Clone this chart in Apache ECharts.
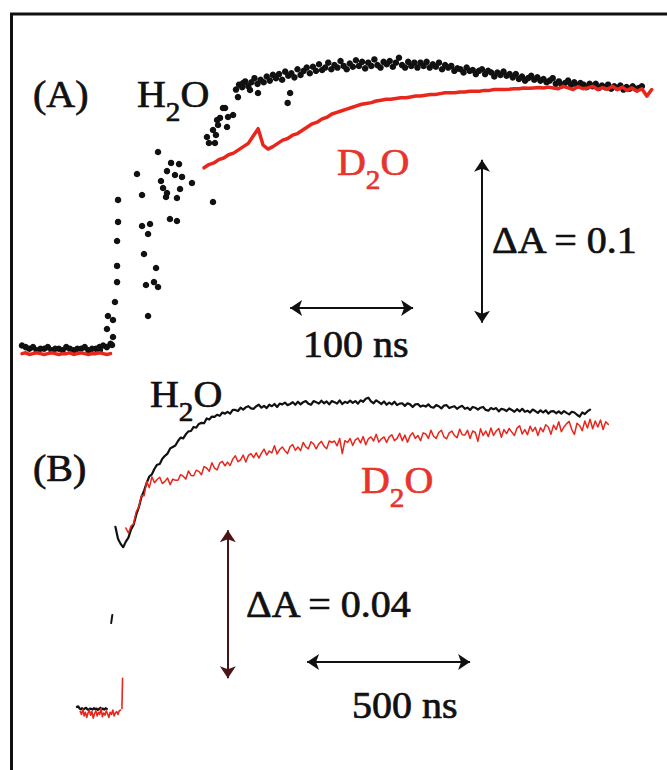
<!DOCTYPE html>
<html>
<head>
<meta charset="utf-8">
<script src="https://cdn.jsdelivr.net/npm/echarts@6/dist/echarts.min.js"></script>
<style>
  html, body { margin: 0; padding: 0; background: #ffffff; }
  #chart { width: 667px; height: 770px; }
</style>
</head>
<body>
<div id="chart"></div>
<script>
// ---------------------------------------------------------------------------
// Transient absorbance traces, H2O (black) vs D2O (red).
// Times in ns (t = 0 at the laser flash), amplitudes in absorbance units.
// Uniformly sampled traces are stored as start time, sampling step, values.
// ---------------------------------------------------------------------------

// (A) short time window
const a_d2o_pre_t0 = -74, a_d2o_pre_dt = 3;
const a_d2o_pre = [-0.001, -0.0005, -0.0015, -0.001, -0.0005, -0.001, -0.0015, -0.001, -0.0005, -0.001,
  -0.0015, -0.001, -0.001, -0.0005, -0.0015, -0.001, -0.0005, -0.001, -0.0015, -0.001,
  -0.001, -0.0005, -0.001, -0.0015, -0.001];

const a_d2o_t0 = 74, a_d2o_dt = 4;
const a_d2o = [0.113, 0.115, 0.116, 0.118, 0.119, 0.121, 0.122, 0.124, 0.126, 0.128,
  0.1325, 0.137, 0.127, 0.1245, 0.126, 0.128, 0.130, 0.131, 0.133, 0.134,
  0.136, 0.138, 0.140, 0.141, 0.143, 0.144, 0.146, 0.147, 0.148, 0.149,
  0.150, 0.151, 0.152, 0.1525, 0.153, 0.154, 0.1545, 0.155, 0.155, 0.1555,
  0.156, 0.156, 0.1565, 0.157, 0.157, 0.1575, 0.158, 0.158, 0.1585, 0.159,
  0.159, 0.159, 0.1595, 0.1595, 0.160, 0.160, 0.160, 0.1605, 0.1605, 0.161,
  0.161, 0.161, 0.1612, 0.1615, 0.1615, 0.162, 0.1618, 0.162, 0.1622, 0.162,
  0.1625, 0.162, 0.1615, 0.163, 0.162, 0.161, 0.1628, 0.1615, 0.162, 0.163,
  0.161, 0.1622, 0.1612, 0.163, 0.161, 0.1625, 0.1605, 0.162, 0.160, 0.1615,
  0.157, 0.161];

const a_h2o_pre_t0 = -74, a_h2o_pre_dt = 3;
const a_h2o_pre = [0.004, 0.003, 0.002, 0.003, 0.001, 0.002, 0.002, 0.003, 0.001, 0.002,
  0.002, 0.001, 0.003, 0.002, 0.001, 0.002, 0.002, 0.003, 0.001, 0.002,
  0.002, 0.003, 0.004, 0.003, 0.005];

// scattered points of the fast rise, [t, dA]
const a_h2o_rise = [
  [-10.6, 0.0012], [-0.8, 0.0043], [0, 0.0092], [-4.9, 0.0141], [0, 0.0196], [-4.1, 0.0221],
  [1.6, 0.0307], [3.3, 0.0429], [3.3, 0.0528], [3.3, 0.0681], [4.1, 0.0798], [4.1, 0.0933],
  [19.5, 0.1092], [23.6, 0.0963], [23.6, 0.0773], [30.1, 0.0785], [28.5, 0.0724], [25.2, 0.0601],
  [35.0, 0.0515], [26.8, 0.0411], [33.3, 0.0429], [36.6, 0.0399], [28.5, 0.0221],
  [36.6, 0.1227], [47.2, 0.1160], [53.7, 0.1153], [43.9, 0.1110], [50.4, 0.1086], [56.1, 0.1074],
  [39.0, 0.1049], [40.7, 0.1006], [43.9, 0.0975], [54.5, 0.1000], [52.0, 0.0945], [43.1, 0.0951],
  [64.2, 0.1037], [46.3, 0.0816], [52.0, 0.0804], [81.3, 0.0920],
  [76.4, 0.1319], [78.0, 0.1282], [82.9, 0.1282], [83.7, 0.1331], [85.4, 0.1393], [87.0, 0.1436],
  [91.1, 0.1497], [93.5, 0.1442], [97.6, 0.1454], [92.7, 0.1380], [81.3, 0.1362], [84.6, 0.1423],
  [89.4, 0.1497], [101.6, 0.1564], [105.7, 0.1650], [111.4, 0.1607], [117.9, 0.1589],
  [142, 0.1528], [144, 0.1589]
];

const a_h2o_t0 = 100, a_h2o_dt = 2.5;
const a_h2o = [0.161, 0.164, 0.1625, 0.166, 0.163, 0.1655, 0.168, 0.1645, 0.167, 0.1655,
  0.169, 0.1665, 0.170, 0.168, 0.1705, 0.167, 0.172, 0.1695, 0.171, 0.1685,
  0.1735, 0.170, 0.1725, 0.1745, 0.171, 0.175, 0.1725, 0.1765, 0.173, 0.1745,
  0.1775, 0.1735, 0.176, 0.1745, 0.1785, 0.1755, 0.1735, 0.177, 0.175, 0.179,
  0.1755, 0.178, 0.174, 0.1775, 0.1755, 0.1795, 0.176, 0.1745, 0.178, 0.1765,
  0.1785, 0.175, 0.1775, 0.1805, 0.176, 0.1745, 0.178, 0.1755, 0.1775, 0.1745,
  0.1775, 0.1755, 0.178, 0.1745, 0.1765, 0.175, 0.1775, 0.1735, 0.176, 0.1745,
  0.1755, 0.1725, 0.174, 0.1735, 0.1715, 0.1745, 0.1725, 0.173, 0.1705, 0.1725,
  0.1735, 0.1705, 0.1725, 0.1715, 0.169, 0.1715, 0.170, 0.172, 0.1695, 0.1705,
  0.1685, 0.1705, 0.1675, 0.169, 0.1665, 0.168, 0.1695, 0.167, 0.1685, 0.1665,
  0.1675, 0.1655, 0.1665, 0.168, 0.1645, 0.166, 0.1635, 0.165, 0.1665, 0.164,
  0.1655, 0.1635, 0.165, 0.164, 0.1625, 0.1645, 0.163, 0.1645, 0.162, 0.1635,
  0.1625, 0.164, 0.1615, 0.163, 0.162, 0.1635, 0.161, 0.1625, 0.1615, 0.163,
  0.1615, 0.162, 0.163];

// (B) long time window
const b_h2o_pre_t0 = -126, b_h2o_pre_dt = 4;
const b_h2o_pre = [0.0008, 0.0010, 0.0004, 0.0002, 0.0005, 0.0001, 0.0004, 0.0006, 0.0002, 0.0000,
  0.0004, 0.0003, 0.0001, 0.0005, 0.0002, 0.0004, 0.0000, 0.0003, 0.0006, 0.0002,
  0.0004, 0.0001, 0.0005, 0.0003];
const b_h2o_step = [[-21, 0.0235], [-17.4, 0.0257]];

const b_h2o_t0 = -8, b_h2o_dt = 8;
const b_h2o = [0.0495, 0.0463, 0.0449, 0.0440, 0.0455, 0.0466, 0.0488, 0.0501, 0.0528, 0.0548,
  0.0576, 0.0593, 0.0614, 0.0631, 0.0637, 0.0652, 0.0663, 0.0665, 0.0679, 0.0687,
  0.0693, 0.0707, 0.0711, 0.0715, 0.0727, 0.0736, 0.0734, 0.0745, 0.0753, 0.0754,
  0.0765, 0.0763, 0.0773, 0.0776, 0.0775, 0.0788, 0.0785, 0.0793, 0.0792, 0.0798,
  0.0795, 0.0804, 0.0801, 0.0806, 0.0801, 0.0811, 0.0811, 0.0808, 0.0817, 0.0812,
  0.0818, 0.0821, 0.0815, 0.0814, 0.0821, 0.0825, 0.0817, 0.0822, 0.0816, 0.0825,
  0.0821, 0.0827, 0.0819, 0.0828, 0.0826, 0.0831, 0.0824, 0.0827, 0.0832, 0.0825,
  0.0833, 0.0826, 0.0832, 0.0835, 0.0828, 0.0825, 0.0835, 0.0832, 0.0828, 0.0836,
  0.0829, 0.0834, 0.0826, 0.0835, 0.0832, 0.0828, 0.0837, 0.0827, 0.0833, 0.0830,
  0.0836, 0.0830, 0.0835, 0.0828, 0.0837, 0.0833, 0.0841, 0.0844, 0.0834, 0.0829,
  0.0837, 0.0832, 0.0827, 0.0834, 0.0825, 0.0831, 0.0826, 0.0833, 0.0824, 0.0828,
  0.0829, 0.0822, 0.0829, 0.0826, 0.0819, 0.0826, 0.0827, 0.0820, 0.0823, 0.0820,
  0.0826, 0.0819, 0.0817, 0.0824, 0.0821, 0.0815, 0.0823, 0.0824, 0.0816, 0.0819,
  0.0821, 0.0814, 0.0819, 0.0822, 0.0814, 0.0817, 0.0811, 0.0819, 0.0817, 0.0812,
  0.0817, 0.0819, 0.0811, 0.0809, 0.0816, 0.0813, 0.0816, 0.0807, 0.0814, 0.0812,
  0.0808, 0.0815, 0.0811, 0.0806, 0.0813, 0.0807, 0.0814, 0.0806, 0.0809, 0.0804,
  0.0812, 0.0808, 0.0803, 0.0810, 0.0804, 0.0810, 0.0801, 0.0807, 0.0808, 0.0802,
  0.0807, 0.0801, 0.0808, 0.0803, 0.0799, 0.0806, 0.0804, 0.0798, 0.0793, 0.0804,
  0.0800, 0.0807, 0.0812];

const b_d2o_pre_t0 = -116, b_d2o_pre_dt = 4;
const b_d2o_pre = [-0.0004, -0.0012, 0.0002, -0.0016, -0.0006, -0.0020, -0.0008, 0.0000, -0.0014, -0.0004,
  -0.0022, -0.0010, -0.0002, -0.0016, -0.0006, -0.0012, 0.0004, -0.0018, -0.0008, -0.0014,
  -0.0002, -0.0010, -0.0020, -0.0006, -0.0012, 0.0000, -0.0016, -0.0008, -0.0004, -0.0012,
  -0.0002, 0.0000];
const b_d2o_spike = [[12, 0.0004], [14, 0.0086]];

const b_d2o_t0 = 24, b_d2o_dt = 8;
const b_d2o = [0.0492, 0.0478, 0.0497, 0.0503, 0.0536, 0.0549, 0.0580, 0.0579, 0.0618, 0.0601,
  0.0630, 0.0614, 0.0623, 0.0629, 0.0612, 0.0618, 0.0627, 0.0609, 0.0624, 0.0621,
  0.0621, 0.0636, 0.0632, 0.0624, 0.0646, 0.0634, 0.0633, 0.0648, 0.0645, 0.0636,
  0.0658, 0.0654, 0.0645, 0.0668, 0.0654, 0.0649, 0.0667, 0.0672, 0.0660, 0.0670,
  0.0661, 0.0678, 0.0687, 0.0671, 0.0676, 0.0689, 0.0670, 0.0688, 0.0693, 0.0682,
  0.0695, 0.0681, 0.0694, 0.0705, 0.0689, 0.0700, 0.0695, 0.0714, 0.0692, 0.0704,
  0.0711, 0.0701, 0.0693, 0.0712, 0.0717, 0.0702, 0.0711, 0.0701, 0.0723, 0.0711,
  0.0706, 0.0725, 0.0719, 0.0706, 0.0719, 0.0726, 0.0713, 0.0706, 0.0727, 0.0723,
  0.0727, 0.0714, 0.0734, 0.0693, 0.0728, 0.0723, 0.0734, 0.0715, 0.0730, 0.0735,
  0.0722, 0.0739, 0.0717, 0.0733, 0.0738, 0.0727, 0.0745, 0.0724, 0.0733, 0.0738,
  0.0723, 0.0738, 0.0744, 0.0728, 0.0734, 0.0748, 0.0728, 0.0743, 0.0724, 0.0741,
  0.0749, 0.0734, 0.0742, 0.0728, 0.0749, 0.0746, 0.0734, 0.0756, 0.0740, 0.0734,
  0.0750, 0.0756, 0.0738, 0.0733, 0.0749, 0.0754, 0.0742, 0.0736, 0.0759, 0.0744,
  0.0743, 0.0756, 0.0734, 0.0754, 0.0750, 0.0726, 0.0760, 0.0742, 0.0754, 0.0739,
  0.0762, 0.0742, 0.0754, 0.0761, 0.0737, 0.0758, 0.0747, 0.0761, 0.0751, 0.0742,
  0.0762, 0.0768, 0.0746, 0.0758, 0.0744, 0.0767, 0.0753, 0.0764, 0.0742, 0.0763,
  0.0752, 0.0771, 0.0765, 0.0745, 0.0770, 0.0758, 0.0779, 0.0752, 0.0765, 0.0774,
  0.0780, 0.0758, 0.0745, 0.0775, 0.0769, 0.0755, 0.0781, 0.0762, 0.0786, 0.0760,
  0.0781, 0.0765, 0.0784, 0.0758, 0.0779, 0.0772];

// scale bars: [time span in ns, absorbance span]
const scaleBarA = [100, 0.1];
const scaleBarB = [500, 0.04];

// text
const panelLabels = ['(A)', '(B)'];
const traceLabels = ['{n|H}{s|2}{n|O}', '{n|D}{s|2}{n|O}'];
const scaleLabelsA = ['100 ns', 'ΔA = 0.1'];
const scaleLabelsB = ['500 ns', 'ΔA = 0.04'];

// ---------------------------------------------------------------------------
// layout
// ---------------------------------------------------------------------------
const FONT = '"Liberation Serif", "Times New Roman", serif';
const FONT_SIZE = 37;
const TEXT_STRETCH = 1.08;
const TEXT_WEIGHT = 0.7;
const BLACK = '#111111';
const RED = '#e8261c';
const RED_TEXT = '#e8352b';
const MAROON = '#4a1515';

// each panel: grid box and where t = 0 / dA = 0 sit, with pixel scale
const geomA = { left: 20, top: 40, width: 640, height: 320, x0: 113, y0: 352, pxPerNs: 1.23, pxPerA: 1630 };
const geomB = { left: 20, top: 380, width: 640, height: 375, x0: 118, y0: 710, pxPerNs: 0.326, pxPerA: 3700 };

function ranges(g) {
  return {
    xmin: (g.left - g.x0) / g.pxPerNs,
    xmax: (g.left + g.width - g.x0) / g.pxPerNs,
    ymax: (g.y0 - g.top) / g.pxPerA,
    ymin: (g.y0 - g.top - g.height) / g.pxPerA
  };
}
const rA = ranges(geomA), rB = ranges(geomB);

// anchor of each scale bar (time, dA) in its panel's data space
const barAnchor = {
  aTime: [144, 0.027],
  aAbs: [300, 0.018],
  bAbs: [337, 0.0086],
  bTime: [580, 0.013]
};

function sampled(t0, dt, vals) {
  return vals.map((v, i) => [t0 + i * dt, v]);
}

function hiddenAxis(idx, r, isX) {
  return {
    type: 'value', gridIndex: idx, show: false,
    min: isX ? r.xmin : r.ymin, max: isX ? r.xmax : r.ymax,
    splitLine: { show: false }
  };
}

function arrowBars(anchorT, anchorA, bar, vertColor) {
  const [tt, ta] = anchorT, [at, aa] = anchorA;
  return {
    silent: true,
    symbol: ['arrow', 'arrow'],
    symbolSize: 12,
    label: { show: false },
    lineStyle: { color: BLACK, width: 2, type: 'solid' },
    data: [
      [{ coord: [tt, ta] }, { coord: [tt + bar[0], ta] }],
      [{ coord: [at, aa], lineStyle: { color: vertColor, width: 2, type: 'solid' }, itemStyle: { color: vertColor } },
       { coord: [at, aa + bar[1]] }]
    ]
  };
}

function lineSeries(idx, data, color, width) {
  return {
    type: 'line', xAxisIndex: idx, yAxisIndex: idx, data,
    showSymbol: false, symbol: 'none', silent: true,
    lineStyle: { color, width, join: 'round', cap: 'round' }
  };
}

function txt(text, x, y, color, rich) {
  const el = {
    type: 'text', x, y, scaleX: TEXT_STRETCH, silent: true,
    style: {
      text, fontFamily: FONT, fontSize: FONT_SIZE, fill: color,
      stroke: color, lineWidth: TEXT_WEIGHT,
      verticalAlign: 'top', align: 'left'
    }
  };
  if (rich) {
    el.style.rich = {
      n: { fontFamily: FONT, fontSize: FONT_SIZE, fill: color, stroke: color, lineWidth: TEXT_WEIGHT },
      s: { fontFamily: FONT, fontSize: 27, fill: color, stroke: color, lineWidth: TEXT_WEIGHT, padding: [33, 0, 0, 0] }
    };
  }
  return el;
}

const chart = echarts.init(document.getElementById('chart'), null, { renderer: 'svg' });

const option = {
  animation: false,
  backgroundColor: '#ffffff',
  grid: [
    { left: geomA.left, top: geomA.top, width: geomA.width, height: geomA.height },
    { left: geomB.left, top: geomB.top, width: geomB.width, height: geomB.height }
  ],
  xAxis: [hiddenAxis(0, rA, true), hiddenAxis(1, rB, true)],
  yAxis: [hiddenAxis(0, rA, false), hiddenAxis(1, rB, false)],
  series: [
    // (A) D2O, solid red
    lineSeries(0, sampled(a_d2o_pre_t0, a_d2o_pre_dt, a_d2o_pre), RED, 3.5),
    lineSeries(0, sampled(a_d2o_t0, a_d2o_dt, a_d2o), RED, 3.5),
    // (A) H2O, black points
    {
      type: 'scatter', xAxisIndex: 0, yAxisIndex: 0, silent: true,
      symbolSize: 6.5,
      itemStyle: { color: BLACK, opacity: 1 },
      data: sampled(a_h2o_pre_t0, a_h2o_pre_dt, a_h2o_pre)
        .concat(a_h2o_rise)
        .concat(sampled(a_h2o_t0, a_h2o_dt, a_h2o)),
      markLine: arrowBars(barAnchor.aTime, barAnchor.aAbs, scaleBarA, BLACK)
    },
    // (B) H2O, black
    lineSeries(1, sampled(b_h2o_pre_t0, b_h2o_pre_dt, b_h2o_pre), BLACK, 2.2),
    lineSeries(1, b_h2o_step, BLACK, 2),
    Object.assign(lineSeries(1, sampled(b_h2o_t0, b_h2o_dt, b_h2o), BLACK, 2.2), {
      markLine: arrowBars(barAnchor.bTime, barAnchor.bAbs, scaleBarB, MAROON)
    }),
    // (B) D2O, red
    lineSeries(1, sampled(b_d2o_pre_t0, b_d2o_pre_dt, b_d2o_pre), RED, 1.6),
    lineSeries(1, b_d2o_spike, RED, 1.6),
    lineSeries(1, sampled(b_d2o_t0, b_d2o_dt, b_d2o), RED, 1.5)
  ],
  graphic: [
    // figure frame (left and top edges)
    {
      type: 'polyline', silent: true,
      shape: { points: [[11.5, 770], [11.5, 14], [667, 14]] },
      style: { stroke: BLACK, lineWidth: 3, fill: null }
    },
    txt(panelLabels[0], 33, 76, BLACK),
    txt(traceLabels[0], 137, 65, BLACK, true),
    txt(traceLabels[1], 337, 133, RED_TEXT, true),
    txt(scaleLabelsA[1], 492, 222, BLACK),
    txt(scaleLabelsA[0], 303, 326, BLACK),
    txt(traceLabels[0], 150, 365, BLACK, true),
    txt(panelLabels[1], 33, 450, BLACK),
    txt(traceLabels[1], 361, 451, RED_TEXT, true),
    txt(scaleLabelsB[1], 246, 586, BLACK),
    txt(scaleLabelsB[0], 352, 687, BLACK)
  ]
};

chart.setOption(option);
</script>
</body>
</html>
